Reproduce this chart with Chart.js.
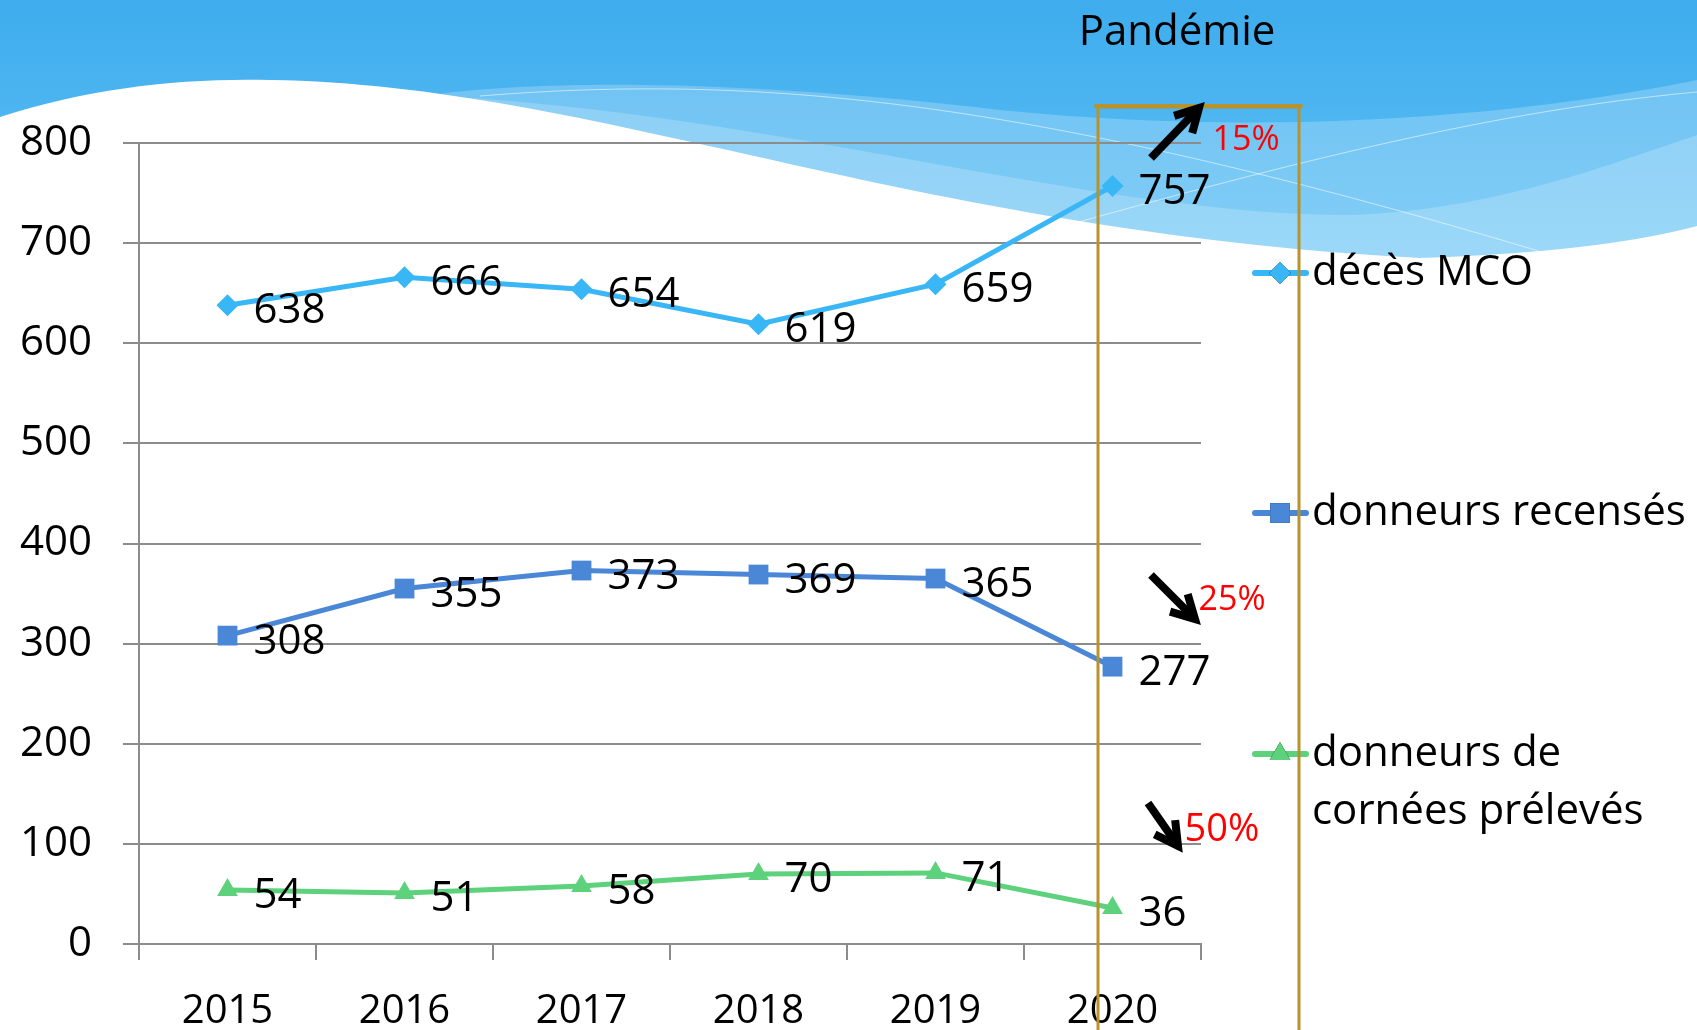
<!DOCTYPE html>
<html>
<head>
<meta charset="utf-8">
<script src="https://cdn.jsdelivr.net/npm/chart.js@4.4.0/dist/chart.umd.min.js"></script>
<style>
  html, body { margin: 0; padding: 0; background: #fff; overflow: hidden; }
  #wrap { width: 1697px; height: 1030px; }
</style>
</head>
<body>
<div id="wrap"><canvas id="chart" width="1697" height="1030"></canvas></div>
<script>
const years = ['2015', '2016', '2017', '2018', '2019', '2020'];
const decesMCO = [638, 666, 654, 619, 659, 757];
const donneursRecenses = [308, 355, 373, 369, 365, 277];
const donneursCornees = [54, 51, 58, 70, 71, 36];
const seriesNames = ['décès MCO', 'donneurs recensés', ['donneurs de', 'cornées prélevés']];
const yTickValues = [0, 100, 200, 300, 400, 500, 600, 700, 800];
const changes = ['15%', '25%', '50%'];

const FONT = '"Open Sans", sans-serif';
const GRID = '#8c8c8c';

// slide background: blue band with a white wave
const backgroundPlugin = {
    id: 'slideBackground',
    beforeDraw(chart) {
        const ctx = chart.ctx;
        const W = chart.width;
        ctx.save();
        const g = ctx.createLinearGradient(0, 0, 0, 280);
        g.addColorStop(0, '#3eaced');
        g.addColorStop(1, '#63c3f6');
        ctx.fillStyle = g;
        ctx.fillRect(0, 0, W, 300);

        // lighter translucent bands
        ctx.fillStyle = 'rgba(255,255,255,0.22)';
        ctx.beginPath();
        ctx.moveTo(430, 95);
        ctx.bezierCurveTo(560, 78, 760, 82, 1000, 110);
        ctx.bezierCurveTo(1300, 140, 1550, 110, W, 80);
        ctx.lineTo(W, 300);
        ctx.lineTo(430, 300);
        ctx.closePath();
        ctx.fill();

        ctx.fillStyle = 'rgba(255,255,255,0.2)';
        ctx.beginPath();
        ctx.moveTo(470, 98);
        ctx.bezierCurveTo(800, 120, 1100, 215, 1350, 215);
        ctx.bezierCurveTo(1500, 210, 1620, 160, W, 135);
        ctx.lineTo(W, 300);
        ctx.lineTo(470, 300);
        ctx.closePath();
        ctx.fill();

        // thin white lines
        ctx.strokeStyle = 'rgba(255,255,255,0.55)';
        ctx.lineWidth = 1;
        ctx.beginPath();
        ctx.moveTo(480, 96);
        ctx.bezierCurveTo(800, 70, 1100, 110, 1697, 300);
        ctx.stroke();
        ctx.beginPath();
        ctx.moveTo(1050, 230);
        ctx.bezierCurveTo(1300, 160, 1500, 110, 1697, 92);
        ctx.stroke();

        // white wave
        ctx.fillStyle = '#ffffff';
        ctx.beginPath();
        ctx.moveTo(0, 117);
        ctx.bezierCurveTo(90, 88, 180, 78, 270, 80);
        ctx.bezierCurveTo(600, 85, 900, 230, 1420, 258);
        ctx.quadraticCurveTo(1600, 252, W, 226);
        ctx.lineTo(W, chart.height);
        ctx.lineTo(0, chart.height);
        ctx.closePath();
        ctx.fill();
        ctx.restore();
    }
};

// value labels next to each point
const valueLabels = {
    id: 'valueLabels',
    afterDatasetsDraw(chart) {
        const ctx = chart.ctx;
        ctx.save();
        ctx.font = '42px ' + FONT;
        ctx.fillStyle = '#000';
        ctx.textAlign = 'left';
        ctx.textBaseline = 'middle';
        chart.data.datasets.forEach((ds, i) => {
            chart.getDatasetMeta(i).data.forEach((pt, j) => {
                ctx.fillText(String(ds.data[j]), pt.x + 26, pt.y + 6);
            });
        });
        ctx.restore();
    }
};

function arrow(ctx, x1, y1, x2, y2) {
    const a = Math.atan2(y2 - y1, x2 - x1);
    const L = 26;
    ctx.beginPath();
    ctx.moveTo(x1, y1);
    ctx.lineTo(x2 - Math.cos(a) * 6, y2 - Math.sin(a) * 6);
    ctx.stroke();
    ctx.beginPath();
    ctx.moveTo(x2 - L * Math.cos(a - 0.5), y2 - L * Math.sin(a - 0.5));
    ctx.lineTo(x2, y2);
    ctx.lineTo(x2 - L * Math.cos(a + 0.5), y2 - L * Math.sin(a + 0.5));
    ctx.stroke();
}

// legend, pandemic box, arrows
const overlay = {
    id: 'overlay',
    afterDraw(chart) {
        const ctx = chart.ctx;
        ctx.save();

        // legend
        const rows = [273, 513, 754];
        ctx.font = '42px ' + FONT;
        ctx.textAlign = 'left';
        ctx.textBaseline = 'middle';
        chart.data.datasets.forEach((ds, i) => {
            const y = rows[i];
            ctx.strokeStyle = ds.borderColor;
            ctx.lineWidth = 6;
            ctx.lineCap = 'round';
            ctx.beginPath();
            ctx.moveTo(1255, y);
            ctx.lineTo(1306, y);
            ctx.stroke();
            Chart.helpers.drawPoint(ctx, {
                pointStyle: ds.pointStyle,
                radius: ds.pointRadius,
                borderWidth: 0
            }, 1280, y);
            ctx.fillStyle = ds.borderColor;
            ctx.fill();
            ctx.fillStyle = '#000';
            const lbl = Array.isArray(ds.label) ? ds.label : [ds.label];
            lbl.forEach((t, k) => ctx.fillText(t, 1312, y + k * 58));
        });

        // pandemic box
        ctx.strokeStyle = '#b8922c';
        ctx.lineWidth = 3;
        ctx.strokeRect(1098, 107, 201, 1000);
        ctx.lineWidth = 4;
        ctx.beginPath();
        ctx.moveTo(1096, 106);
        ctx.lineTo(1301, 106);
        ctx.stroke();

        ctx.fillStyle = '#000';
        ctx.textAlign = 'center';
        ctx.font = '42px ' + FONT;
        ctx.fillText('Pandémie', 1177, 33);

        // arrows
        ctx.strokeStyle = '#000';
        ctx.lineWidth = 8;
        ctx.lineCap = 'butt';
        ctx.lineJoin = 'miter';
        arrow(ctx, 1151, 158, 1199, 108);
        arrow(ctx, 1151, 575, 1195, 619);
        arrow(ctx, 1148, 803, 1178, 846);

        ctx.fillStyle = '#ff0000';
        ctx.font = '34px ' + FONT;
        ctx.fillText(changes[0], 1246, 140);
        ctx.fillText(changes[1], 1232, 600);
        ctx.font = '38px ' + FONT;
        ctx.fillText(changes[2], 1222, 830);
        ctx.restore();
    }
};

const ctx = document.getElementById('chart').getContext('2d');
new Chart(ctx, {
    type: 'line',
    data: {
        labels: years,
        datasets: [{
            label: seriesNames[0],
            data: decesMCO,
            borderColor: '#38b6f6',
            backgroundColor: '#38b6f6',
            borderWidth: 5,
            pointStyle: 'rectRot',
            pointRadius: 11,
            pointBorderWidth: 0
        }, {
            label: seriesNames[1],
            data: donneursRecenses,
            borderColor: '#4a87d7',
            backgroundColor: '#4a87d7',
            borderWidth: 5,
            pointStyle: 'rect',
            pointRadius: 14,
            pointBorderWidth: 0
        }, {
            label: seriesNames[2],
            data: donneursCornees,
            borderColor: '#5dd17c',
            backgroundColor: '#5dd17c',
            borderWidth: 5,
            pointStyle: 'triangle',
            pointRadius: 12,
            pointBorderWidth: 0
        }]
    },
    options: {
        responsive: false,
        animation: false,
        layout: { padding: { top: 143, right: 496, left: 0, bottom: 0 } },
        plugins: {
            legend: { display: false },
            tooltip: { enabled: false }
        },
        scales: {
            x: {
                offset: true,
                grid: {
                    offset: true,
                    drawOnChartArea: false,
                    drawTicks: true,
                    tickLength: 16,
                    color: GRID,
                    lineWidth: 2
                },
                border: { display: true, color: GRID, width: 2 },
                ticks: {
                    color: '#000',
                    font: { family: FONT, size: 40 },
                    padding: 28,
                    maxRotation: 0
                },
                afterFit(scale) { scale.height = 86; }
            },
            y: {
                min: 0,
                max: 800,
                afterBuildTicks(scale) {
                    scale.ticks = yTickValues.map(v => ({ value: v }));
                },
                grid: {
                    color: GRID,
                    lineWidth: 2,
                    drawTicks: true,
                    tickLength: 16
                },
                border: { display: true, color: GRID, width: 2 },
                ticks: {
                    color: '#000',
                    font: { family: FONT, size: 42 },
                    padding: 31
                },
                afterFit(scale) { scale.width = 139; }
            }
        }
    },
    plugins: [backgroundPlugin, valueLabels, overlay]
});
</script>
</body>
</html>
